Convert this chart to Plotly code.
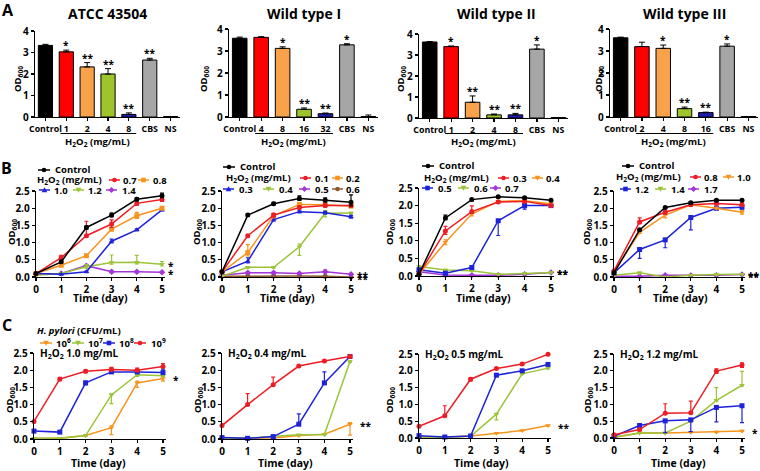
import plotly.graph_objects as go

W, H = 760, 471
FONT = "Open Sans"

# ---------------- DATA ----------------
A_titles = ["ATCC 43504", "Wild type I", "Wild type II", "Wild type III"]
A_labels = [["Control", "1", "2", "4", "8", "CBS", "NS"],
            ["Control", "4", "8", "16", "32", "CBS", "NS"],
            ["Control", "1", "2", "4", "8", "CBS", "NS"],
            ["Control", "2", "4", "8", "16", "CBS", "NS"]]
A_means = [[3.33, 3.03, 2.33, 2.00, 0.12, 2.65, 0.02],
           [3.58, 3.62, 3.12, 0.35, 0.15, 3.28, 0.02],
           [3.62, 3.40, 0.75, 0.15, 0.15, 3.28, 0.02],
           [3.60, 3.20, 3.12, 0.38, 0.20, 3.22, 0.02]]
A_errors = [[0.05, 0.08, 0.20, 0.25, 0.07, 0.08, 0.00],
            [0.05, 0.03, 0.07, 0.06, 0.03, 0.05, 0.07],
            [0.02, 0.03, 0.30, 0.04, 0.07, 0.20, 0.00],
            [0.03, 0.20, 0.15, 0.07, 0.02, 0.10, 0.00]]
A_sig = [["", "*", "**", "**", "**", "**", ""],
         ["", "", "*", "**", "**", "*", ""],
         ["", "*", "**", "**", "**", "*", ""],
         ["", "", "*", "**", "**", "*", ""]]

days = [0, 1, 2, 3, 4, 5]

# Panel B: growth under H2O2 (mg/mL)
B1_labels = ["Control", "0.7", "0.8", "1.0", "1.2", "1.4"]
B1_values = [[0.10, 0.44, 1.44, 1.80, 2.26, 2.36],
             [0.10, 0.56, 1.20, 1.54, 2.14, 2.25],
             [0.10, 0.34, 0.62, 1.39, 1.78, 2.00],
             [0.10, 0.08, 0.15, 1.04, 1.37, 1.95],
             [0.05, 0.10, 0.30, 0.42, 0.43, 0.37],
             [0.08, 0.10, 0.33, 0.15, 0.15, 0.14]]
B1_err_up = [[0.02, 0.04, 0.05, 0.06, 0.05, 0.08],
             [0.02, 0.07, 0.42, 0.12, 0.07, 0.05],
             [0.02, 0.03, 0.03, 0.04, 0.10, 0.03],
             [0.02, 0.02, 0.02, 0.06, 0.03, 0.03],
             [0.02, 0.02, 0.06, 0.22, 0.20, 0.08],
             [0.02, 0.02, 0.03, 0.02, 0.02, 0.02]]
B1_err_dn = [[0.02, 0.03, 0.05, 0.05, 0.05, 0.05],
             [0.02, 0.05, 0.05, 0.10, 0.05, 0.05],
             [0.02, 0.03, 0.03, 0.04, 0.08, 0.03],
             [0.02, 0.02, 0.02, 0.05, 0.03, 0.03],
             [0.02, 0.02, 0.04, 0.05, 0.05, 0.05],
             [0.02, 0.02, 0.03, 0.02, 0.02, 0.02]]

B2_labels = ["Control", "0.1", "0.2", "0.3", "0.4", "0.5", "0.6"]
B2_values = [[0.15, 1.80, 2.13, 2.28, 2.23, 2.17],
             [0.15, 1.20, 1.80, 2.02, 2.08, 2.08],
             [0.15, 0.71, 1.78, 2.11, 2.10, 2.06],
             [0.15, 0.46, 1.67, 1.90, 1.87, 1.75],
             [0.02, 0.28, 0.28, 0.88, 1.85, 1.86],
             [0.05, 0.12, 0.12, 0.10, 0.15, 0.08],
             [0.02, 0.03, 0.03, 0.03, 0.02, 0.00]]
B2_err_up = [[0.02, 0.04, 0.04, 0.08, 0.07, 0.22],
             [0.02, 0.03, 0.05, 0.05, 0.05, 0.05],
             [0.02, 0.23, 0.05, 0.04, 0.04, 0.04],
             [0.02, 0.10, 0.05, 0.04, 0.04, 0.04],
             [0.01, 0.02, 0.02, 0.08, 0.08, 0.02],
             [0.01, 0.02, 0.02, 0.02, 0.05, 0.02],
             [0.01, 0.01, 0.01, 0.01, 0.01, 0.01]]
B2_err_dn = [[0.02, 0.03, 0.03, 0.05, 0.05, 0.10],
             [0.02, 0.03, 0.05, 0.05, 0.05, 0.05],
             [0.02, 0.10, 0.05, 0.04, 0.04, 0.04],
             [0.02, 0.05, 0.05, 0.04, 0.04, 0.04],
             [0.01, 0.02, 0.02, 0.25, 0.10, 0.02],
             [0.01, 0.02, 0.02, 0.02, 0.03, 0.02],
             [0.01, 0.01, 0.01, 0.01, 0.01, 0.00]]

B3_labels = ["Control", "0.3", "0.4", "0.5", "0.6", "0.7"]
B3_values = [[0.05, 1.65, 2.17, 2.25, 2.22, 2.15],
             [0.05, 1.28, 1.83, 2.10, 2.12, 2.00],
             [0.05, 0.96, 1.76, 2.12, 2.14, 2.05],
             [0.18, 0.08, 0.24, 1.57, 2.00, 2.00],
             [0.27, 0.17, 0.15, 0.05, 0.07, 0.10],
             [0.12, 0.03, 0.02, 0.02, 0.05, 0.10]]
B3_err_up = [[0.02, 0.08, 0.03, 0.03, 0.03, 0.03],
             [0.02, 0.13, 0.16, 0.04, 0.04, 0.03],
             [0.02, 0.07, 0.05, 0.03, 0.03, 0.03],
             [0.02, 0.02, 0.02, 0.02, 0.08, 0.03],
             [0.02, 0.02, 0.02, 0.02, 0.02, 0.02],
             [0.02, 0.01, 0.01, 0.01, 0.01, 0.02]]
B3_err_dn = [[0.02, 0.05, 0.03, 0.03, 0.03, 0.03],
             [0.02, 0.10, 0.05, 0.03, 0.03, 0.03],
             [0.02, 0.07, 0.05, 0.03, 0.03, 0.03],
             [0.02, 0.02, 0.02, 0.42, 0.10, 0.03],
             [0.02, 0.02, 0.02, 0.02, 0.02, 0.02],
             [0.02, 0.01, 0.01, 0.01, 0.01, 0.02]]

B4_labels = ["Control", "0.8", "1.0", "1.2", "1.4", "1.7"]
B4_values = [[0.12, 1.37, 2.02, 2.16, 2.23, 2.23],
             [0.18, 1.60, 1.88, 2.10, 2.14, 2.10],
             [0.15, 1.30, 1.80, 2.10, 2.00, 1.88],
             [0.12, 0.80, 1.08, 1.73, 2.00, 2.03],
             [0.05, 0.12, 0.00, 0.05, 0.07, 0.08],
             [0.02, 0.02, 0.05, 0.04, 0.05, 0.07]]
B4_err_up = [[0.02, 0.03, 0.03, 0.03, 0.03, 0.03],
             [0.03, 0.12, 0.05, 0.03, 0.03, 0.05],
             [0.03, 0.03, 0.08, 0.03, 0.03, 0.05],
             [0.02, 0.02, 0.02, 0.02, 0.05, 0.05],
             [0.02, 0.02, 0.01, 0.01, 0.02, 0.02],
             [0.01, 0.01, 0.01, 0.01, 0.01, 0.01]]
B4_err_dn = [[0.02, 0.03, 0.03, 0.03, 0.03, 0.03],
             [0.03, 0.05, 0.05, 0.03, 0.03, 0.05],
             [0.03, 0.03, 0.08, 0.03, 0.03, 0.05],
             [0.02, 0.26, 0.23, 0.36, 0.05, 0.05],
             [0.02, 0.02, 0.00, 0.01, 0.02, 0.02],
             [0.01, 0.01, 0.01, 0.01, 0.01, 0.01]]

# Panel C: inoculum size (CFU/mL) under fixed H2O2
C_labels = ["10<sup>6</sup>", "10<sup>7</sup>", "10<sup>8</sup>", "10<sup>9</sup>"]
C_doses = ["1.0", "0.4", "0.5", "1.2"]
C1_values = [[0.02, 0.02, 0.10, 0.33, 1.63, 1.76],
             [0.02, 0.02, 0.10, 1.28, 1.87, 1.84],
             [0.23, 0.20, 1.63, 1.95, 1.95, 1.93],
             [0.51, 1.74, 1.97, 2.02, 2.00, 2.11]]
C1_err_up = [[0.01, 0.01, 0.02, 0.05, 0.05, 0.05],
             [0.01, 0.01, 0.02, 0.03, 0.05, 0.03],
             [0.02, 0.02, 0.05, 0.03, 0.03, 0.10],
             [0.02, 0.05, 0.04, 0.06, 0.06, 0.08]]
C1_err_dn = [[0.01, 0.01, 0.02, 0.20, 0.13, 0.08],
             [0.01, 0.01, 0.02, 0.25, 0.05, 0.03],
             [0.02, 0.02, 0.05, 0.03, 0.03, 0.03],
             [0.02, 0.03, 0.04, 0.03, 0.03, 0.03]]

C2_values = [[0.02, 0.02, 0.03, 0.10, 0.14, 0.43],
             [0.02, 0.02, 0.08, 0.12, 0.13, 2.25],
             [0.04, 0.02, 0.07, 0.43, 1.63, 2.40],
             [0.39, 1.00, 1.58, 2.12, 2.27, 2.40]]
C2_err_up = [[0.01, 0.01, 0.01, 0.01, 0.01, 0.05],
             [0.01, 0.01, 0.01, 0.01, 0.01, 0.02],
             [0.01, 0.01, 0.01, 0.30, 0.32, 0.03],
             [0.02, 0.32, 0.22, 0.02, 0.02, 0.03]]
C2_err_dn = [[0.01, 0.01, 0.01, 0.01, 0.01, 0.32],
             [0.01, 0.01, 0.01, 0.01, 0.01, 0.02],
             [0.01, 0.01, 0.01, 0.02, 0.02, 0.03],
             [0.02, 0.02, 0.02, 0.02, 0.02, 0.03]]

C3_values = [[0.02, 0.02, 0.06, 0.14, 0.22, 0.37],
             [0.02, 0.02, 0.05, 0.71, 1.91, 2.08],
             [0.07, 0.03, 0.06, 1.87, 2.00, 2.19],
             [0.35, 0.66, 1.75, 2.07, 2.20, 2.49]]
C3_err_up = [[0.01, 0.01, 0.01, 0.01, 0.01, 0.01],
             [0.01, 0.01, 0.01, 0.02, 0.02, 0.02],
             [0.01, 0.01, 0.01, 0.02, 0.02, 0.02],
             [0.02, 0.30, 0.05, 0.02, 0.02, 0.02]]
C3_err_dn = [[0.01, 0.01, 0.01, 0.01, 0.01, 0.01],
             [0.01, 0.01, 0.01, 0.17, 0.02, 0.02],
             [0.01, 0.01, 0.01, 0.02, 0.02, 0.02],
             [0.02, 0.02, 0.05, 0.02, 0.02, 0.02]]

C4_values = [[0.02, 0.15, 0.15, 0.17, 0.18, 0.21],
             [0.02, 0.15, 0.15, 0.50, 1.12, 1.57],
             [0.05, 0.37, 0.51, 0.54, 0.91, 0.96],
             [0.10, 0.25, 0.74, 0.75, 1.99, 2.17]]
C4_err_up = [[0.01, 0.01, 0.01, 0.01, 0.02, 0.02],
             [0.01, 0.01, 0.01, 0.01, 0.38, 0.41],
             [0.02, 0.05, 0.02, 0.02, 0.02, 0.02],
             [0.02, 0.03, 0.28, 0.35, 0.07, 0.07]]
C4_err_dn = [[0.01, 0.01, 0.01, 0.01, 0.02, 0.02],
             [0.01, 0.01, 0.01, 0.01, 0.02, 0.02],
             [0.02, 0.05, 0.35, 0.35, 0.43, 0.50],
             [0.02, 0.03, 0.02, 0.02, 0.07, 0.07]]

# ---------------- STYLE ----------------
BLACK, RED, ORANGE, GREEN = "#000000", "#EE1C24", "#F7941D", "#9CC43A"
BLUE, PURPLE, BROWN, GREY = "#1E22D8", "#A435D6", "#8B5A2B", "#A6A6A6"
BAR_COLORS = [BLACK, "#FF0000", "#F9A24B", "#9DC42B", "#1C1CB4", GREY, BLACK]

B_colors = [[BLACK, RED, ORANGE, BLUE, GREEN, PURPLE],
            [BLACK, RED, ORANGE, BLUE, GREEN, PURPLE, BROWN],
            [BLACK, RED, ORANGE, BLUE, GREEN, PURPLE],
            [BLACK, RED, ORANGE, BLUE, GREEN, PURPLE]]
B_symbols = [["circle", "circle", "square", "triangle-up", "triangle-down", "diamond"],
             ["circle", "circle", "square", "triangle-up", "triangle-down", "diamond", "circle"],
             ["circle", "circle", "triangle-down", "square", "triangle-down", "diamond"],
             ["circle", "circle", "triangle-down", "square", "triangle-down", "diamond"]]
C_colors = [ORANGE, GREEN, BLUE, RED]
C_symbols = ["triangle-down", "triangle-down", "square", "circle"]

# pixel boxes: (x_left, x_at_last_tick, y_top, y_bottom)
A_boxes = [(35, 180, 31, 117), (229, 378, 29, 117), (419, 568, 34, 118), (610, 758, 29, 117)]
B_boxes = [(36, 162, 191, 277), (222, 351, 191, 277), (419, 551, 188, 276), (614, 742, 191, 277)]
C_boxes = [(34, 163, 353, 439), (222, 350, 353, 439), (419, 548, 354, 438), (614, 742, 354, 438)]


def px(x):
    return x / W


def py(y):
    return 1 - y / H


fig = go.Figure()
layout = dict(width=W, height=H, margin=dict(l=0, r=0, t=0, b=0, pad=0, autoexpand=False),
              paper_bgcolor="white", plot_bgcolor="white", showlegend=False)
annotations = []
shapes = []

tickfont = dict(family=FONT, size=10, color="black", weight="bold")
axis_common = dict(showline=True, linecolor="black", linewidth=1.3, ticks="outside",
                   ticklen=3, tickwidth=1.2, tickcolor="black", showgrid=False,
                   zeroline=False, tickfont=tickfont, fixedrange=True, tickangle=0,
                   automargin=False)


def txt(x, y, s, size=9.5, xanchor="center", yanchor="middle", angle=0, weight="bold"):
    annotations.append(dict(x=px(x), y=py(y), xref="paper", yref="paper", text=s,
                            showarrow=False, xanchor=xanchor, yanchor=yanchor,
                            textangle=angle, borderpad=0,
                            font=dict(family=FONT, size=size, color="black", weight=weight)))


def glyph(x0, x1, y, color, symbol):
    shapes.append(dict(type="line", xref="paper", yref="paper", x0=px(x0), x1=px(x1),
                       y0=py(y), y1=py(y), line=dict(color=color, width=1.5)))
    cx = (x0 + x1) / 2
    r = 2.3
    if symbol == "circle":
        shapes.append(dict(type="circle", xref="paper", yref="paper", x0=px(cx - r), x1=px(cx + r),
                           y0=py(y - r), y1=py(y + r), fillcolor=color, line=dict(width=0)))
    elif symbol == "square":
        shapes.append(dict(type="rect", xref="paper", yref="paper", x0=px(cx - r), x1=px(cx + r),
                           y0=py(y - r), y1=py(y + r), fillcolor=color, line=dict(width=0)))
    else:
        if symbol == "triangle-up":
            pts = [(cx, y - 2.8), (cx + 2.8, y + 2.2), (cx - 2.8, y + 2.2)]
        elif symbol == "triangle-down":
            pts = [(cx, y + 2.8), (cx + 2.8, y - 2.2), (cx - 2.8, y - 2.2)]
        else:
            pts = [(cx, y - 3), (cx + 3, y), (cx, y + 3), (cx - 3, y)]
        path = "M " + " L ".join(f"{px(a):.5f},{py(b):.5f}" for a, b in pts) + " Z"
        shapes.append(dict(type="path", xref="paper", yref="paper", path=path,
                           fillcolor=color, line=dict(width=0)))


# ---------------- PANEL A ----------------
for i in range(4):
    n = i + 1
    x0, x1, yt, yb = A_boxes[i]
    xa, ya = f"xaxis{n}", f"yaxis{n}"
    layout[xa] = dict(axis_common, domain=[px(x0), px(x1)], range=[-0.5, 6.45],
                      tickvals=list(range(7)), ticktext=A_labels[i], anchor=f"y{n}",
                      tickfont=dict(tickfont, size=8.8))
    layout[ya] = dict(axis_common, domain=[py(yb), py(yt)], range=[0, 4], dtick=1,
                      anchor=f"x{n}")
    fig.add_trace(go.Bar(x=list(range(7)), y=A_means[i], width=0.68,
                         marker=dict(color=BAR_COLORS, line=dict(color="black", width=1)),
                         error_y=dict(type="data", symmetric=False, array=A_errors[i],
                                      arrayminus=[0] * 7, color="black", thickness=1, width=3),
                         xaxis=f"x{n}", yaxis=f"y{n}", hoverinfo="skip"))
    for j, s in enumerate(A_sig[i]):
        if s:
            annotations.append(dict(x=j, y=A_means[i][j] + A_errors[i][j], xref=f"x{n}", yref=f"y{n}",
                                    text=s, showarrow=False, yanchor="bottom", yshift=-4,
                                    font=dict(family=FONT, size=10, color="black", weight="bold")))
    shapes.append(dict(type="line", xref=f"x{n}", yref="paper", x0=0.72, x1=4.35,
                       y0=py(133.5), y1=py(133.5), line=dict(color="black", width=1)))
    annotations.append(dict(x=2.5, y=py(142), xref=f"x{n}", yref="paper",
                            xanchor="center", yanchor="middle",
                            text="H<sub>2</sub>O<sub>2</sub> (mg/mL)", showarrow=False,
                            font=dict(family=FONT, size=9.5, color="black", weight="bold")))
    txt((x0 + x1) / 2 + (3 if i == 2 else 0), 14, A_titles[i], size=14)

for xc in [18, 204, 401, 599]:
    txt(xc, 79, "OD<sub>600</sub>", size=9.5, angle=-90)

# ---------------- PANEL B ----------------
B_values = [B1_values, B2_values, B3_values, B4_values]
B_err_up = [B1_err_up, B2_err_up, B3_err_up, B4_err_up]
B_err_dn = [B1_err_dn, B2_err_dn, B3_err_dn, B4_err_dn]
B_labels = [B1_labels, B2_labels, B3_labels, B4_labels]
B_stars = [["*", "*"], ["**", "**"], ["**", "**"], ["**", "**"]]
B_star_idx = [[4, 5], [5, 6], [4, 5], [4, 5]]

C_values = [C1_values, C2_values, C3_values, C4_values]
C_err_up = [C1_err_up, C2_err_up, C3_err_up, C4_err_up]
C_err_dn = [C1_err_dn, C2_err_dn, C3_err_dn, C4_err_dn]
C_stars = ["*", "**", "**", "*"]
C_star_idx = [0, 0, 0, 0]


def line_axes(n, box):
    x0, x5, yt, yb = box
    unit = (x5 - x0) / 5
    layout[f"xaxis{n}"] = dict(axis_common, domain=[px(x0), px(x0 + 5.12 * unit)],
                               range=[0, 5.12], tickvals=days, anchor=f"y{n}")
    layout[f"yaxis{n}"] = dict(axis_common, domain=[py(yb), py(yt)], range=[0, 2.5],
                               tickvals=[0, 0.5, 1.0, 1.5, 2.0, 2.5],
                               ticktext=["0.0", "0.5", "1.0", "1.5", "2.0", "2.5"],
                               anchor=f"x{n}")


def add_series(n, vals, up, dn, color, symbol):
    fig.add_trace(go.Scatter(x=days, y=vals, mode="lines+markers", cliponaxis=False,
                             line=dict(color=color, width=1.5),
                             marker=dict(color=color, size=5, symbol=symbol),
                             error_y=dict(type="data", symmetric=False, array=up, arrayminus=dn,
                                          color=color, thickness=1.2, width=2),
                             xaxis=f"x{n}", yaxis=f"y{n}", hoverinfo="skip"))


for i in range(4):
    n = 5 + i
    line_axes(n, B_boxes[i])
    order = list(range(len(B_values[i])))[::-1]
    for k in order:
        add_series(n, B_values[i][k], B_err_up[i][k], B_err_dn[i][k], B_colors[i][k], B_symbols[i][k])
    for s, k in zip(B_stars[i], B_star_idx[i]):
        annotations.append(dict(x=5, y=B_values[i][k][-1], xref=f"x{n}", yref=f"y{n}", text=s,
                                showarrow=False, xanchor="left", xshift=4, yshift=-2,
                                font=dict(family=FONT, size=10, color="black", weight="bold")))

for i in range(4):
    n = 9 + i
    line_axes(n, C_boxes[i])
    for k in range(4):
        add_series(n, C_values[i][k], C_err_up[i][k], C_err_dn[i][k], C_colors[k], C_symbols[k])
    k = C_star_idx[i]
    annotations.append(dict(x=5, y=C_values[i][k][-1], xref=f"x{n}", yref=f"y{n}", text=C_stars[i],
                            showarrow=False, xanchor="left", xshift=8, yshift=-2,
                            font=dict(family=FONT, size=10, color="black", weight="bold")))

# axis titles for B and C
for xc in [12, 197, 390, 587]:
    txt(xc, 232, "OD<sub>600</sub>", size=9.5, angle=-90)
for xc in [10, 198, 390, 588]:
    txt(xc, 400, "OD<sub>600</sub>", size=9.5, angle=-90)
for xc in [100, 287, 483, 680]:
    txt(xc, 298, "Time (day)", size=10.5)
    txt(xc - 2, 463, "Time (day)", size=10.5)

# ---------------- legends for B ----------------
B_leg_rows = [
    dict(ctrl=(38, 170), r2y=180, r2x=36, r2=[(109, 122), (138, 152)], r3y=190,
         r3=[(39, 53), (73, 87), (106, 121)]),
    dict(ctrl=(223, 167), r2y=178, r2x=225, r2=[(300, 314), (332, 345)], r3y=189,
         r3=[(223, 238), (263, 278), (299, 314), (332, 345)]),
    dict(ctrl=(422, 166), r2y=178, r2x=423, r2=[(498, 512), (532, 545)], r3y=188,
         r3=[(422, 437), (458, 473), (490, 504)]),
    dict(ctrl=(622, 166), r2y=177, r2x=615, r2=[(690, 703), (723, 736)], r3y=189,
         r3=[(620, 634), (655, 670), (688, 703)]),
]
for i, L in enumerate(B_leg_rows):
    cx, cy = L["ctrl"]
    glyph(cx, cx + 12, cy, BLACK, "circle")
    txt(cx + 16, cy, "Control", xanchor="left")
    txt(L["r2x"], L["r2y"], "H<sub>2</sub>O<sub>2</sub> (mg/mL)", xanchor="left")
    entries = L["r2"] + L["r3"]
    ys = [L["r2y"]] * len(L["r2"]) + [L["r3y"]] * len(L["r3"])
    for k, ((gx, tx), yy) in enumerate(zip(entries, ys)):
        glyph(gx, gx + 11, yy, B_colors[i][k + 1], B_symbols[i][k + 1])
        txt(tx, yy, B_labels[i][k + 1], xanchor="left")

# ---------------- legend for C ----------------
txt(36, 330, "<i>H. pylori</i> (CFU/mL)", xanchor="left")
for k, (gx, tx) in enumerate([(40, 55), (72, 87), (103, 118), (134, 150)]):
    glyph(gx, gx + 12, 343, C_colors[k], C_symbols[k])
    txt(tx, 343, C_labels[k], xanchor="left")

for (x0, x5, yt, yb), d in zip(C_boxes, C_doses):
    txt(x0 + 5, yt, f"H<sub>2</sub>O<sub>2</sub> {d} mg/mL", size=10, xanchor="left")

# panel letters
txt(8, 10, "A", size=16)
txt(7, 168, "B", size=16)
txt(7, 325, "C", size=16)

layout["annotations"] = annotations
layout["shapes"] = shapes
fig.update_layout(**layout)
fig.write_html("out.html", config={"displayModeBar": False, "staticPlot": True},
               post_script="document.body.style.margin='0';document.body.style.padding='0';"
                           "document.body.style.overflow='hidden';")
